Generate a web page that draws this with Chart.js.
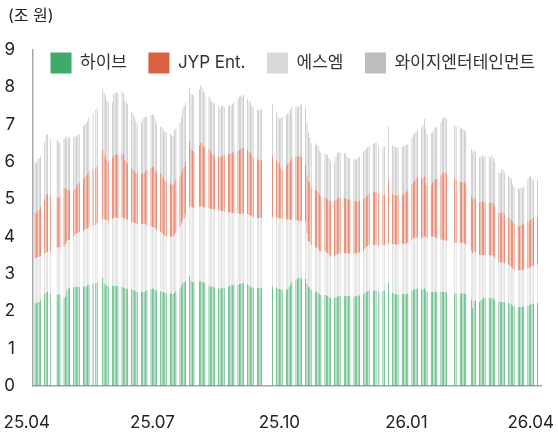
<!DOCTYPE html>
<html lang="ko">
<head>
<meta charset="utf-8">
<title>엔터 4사 시가총액</title>
<script src="https://cdn.jsdelivr.net/npm/chart.js@4.4.1/dist/chart.umd.min.js"></script>
<style>
  html, body { margin: 0; padding: 0; background: #fff; }
  #wrap { width: 558px; height: 435px; position: relative; }
</style>
</head>
<body>
<div id="wrap"><canvas id="capChart"></canvas></div>
<script>
// calendar range of the x axis (one bar per trading day)
const startDate = '2025-04-20';
const endDate   = '2026-04-22';
const holidays  = ['2025-05-01','2025-05-05','2025-05-06','2025-06-03','2025-06-06','2025-08-15',
  '2025-10-03','2025-10-06','2025-10-07','2025-10-08','2025-10-09','2025-12-25','2025-12-31',
  '2026-01-01','2026-02-16','2026-02-17','2026-02-18','2026-03-02'];

const tickDates  = ['2025-04-15', '2025-07-15', '2025-10-15', '2026-01-15', '2026-04-15'];
const tickLabels = ['25.04', '25.07', '25.10', '26.01', '26.04'];

const names = ['하이브', 'JYP Ent.', '에스엠', '와이지엔터테인먼트'];

// 조 원, one value per trading day, one line per month
const hybe = [
  2.22,2.21,2.24,2.26,2.30,2.48,2.52,2.53,
  2.48,2.46,2.45,2.44,2.36,2.40,2.55,2.62,2.62,2.64,2.66,2.66,2.65,2.66,2.66,2.67,2.66,2.70,2.72,
  2.74,2.75,2.76,2.89,2.75,2.70,2.70,2.68,2.68,2.69,2.68,2.67,2.68,2.65,2.64,2.62,2.61,2.60,2.58,
  2.57,2.55,2.53,2.52,2.52,2.51,2.52,2.54,2.58,2.60,2.61,2.60,2.58,2.56,2.54,2.53,2.52,2.50,2.48,2.47,2.48,2.47,2.50,
  2.55,2.62,2.70,2.76,2.78,2.80,2.94,2.82,2.78,2.78,2.80,2.80,2.79,2.78,2.75,2.68,2.66,2.65,2.66,2.64,
  2.62,2.61,2.62,2.63,2.62,2.66,2.68,2.70,2.70,2.71,2.72,2.73,2.74,2.75,2.76,2.72,2.70,2.66,2.64,2.63,2.63,2.62,
  2.62,2.63,2.66,2.64,2.62,2.60,2.58,2.57,2.58,2.60,2.65,2.72,2.80,2.85,2.88,2.90,2.89,2.88,
  2.87,2.75,2.66,2.64,2.58,2.52,2.53,2.50,2.46,2.44,2.44,2.43,2.41,2.38,2.36,2.36,2.38,2.40,2.41,2.41,
  2.41,2.40,2.41,2.42,2.41,2.40,2.40,2.41,2.42,2.43,2.47,2.50,2.52,2.54,2.55,2.55,2.56,2.55,2.54,2.55,2.56,
  2.77,2.50,2.47,2.46,2.45,2.46,2.46,2.47,2.46,2.47,2.48,2.55,2.58,2.60,2.60,2.61,2.58,2.60,2.62,2.55,2.52,
  2.52,2.52,2.53,2.52,2.51,2.52,2.53,2.52,2.52,2.50,2.48,2.48,2.47,2.48,2.49,2.48,2.45,
  2.32,2.08,2.28,2.30,2.25,2.30,2.34,2.35,2.36,2.36,2.35,2.36,2.34,2.30,2.26,2.25,2.26,2.25,2.24,2.22,2.20,
  2.18,2.15,2.13,2.12,2.11,2.12,2.12,2.13,2.15,2.16,2.18,2.20,2.21,2.22
];
const sm = [
  1.21,1.21,1.21,1.20,1.18,1.07,1.05,1.05,
  1.12,1.24,1.26,1.28,1.37,1.40,1.33,1.28,1.30,1.36,1.39,1.42,1.45,1.46,1.49,1.51,1.54,1.52,1.53,
  1.54,1.55,1.59,1.59,1.70,1.75,1.73,1.74,1.80,1.81,1.84,1.83,1.82,1.87,1.86,1.86,1.86,1.85,1.82,
  1.81,1.81,1.82,1.81,1.81,1.83,1.83,1.79,1.72,1.68,1.65,1.66,1.64,1.62,1.58,1.57,1.53,1.52,1.52,1.52,1.52,1.53,1.55,
  1.55,1.63,1.65,1.69,1.72,1.80,1.86,1.96,2.00,1.98,2.00,2.02,2.01,2.00,2.03,2.08,2.09,2.09,2.07,2.08,
  2.08,2.09,2.06,2.05,2.04,1.99,1.97,1.94,1.93,1.91,1.90,1.88,1.86,1.85,1.86,1.88,1.88,1.91,1.91,1.89,1.87,1.88,
  1.88,1.87,1.86,1.88,1.88,1.90,1.90,1.91,1.88,1.86,1.80,1.73,1.65,1.59,1.55,1.52,1.53,1.54,
  1.53,1.35,1.22,1.21,1.20,1.18,1.17,1.18,1.16,1.16,1.16,1.15,1.14,1.12,1.11,1.10,1.12,1.13,1.14,1.14,
  1.14,1.15,1.15,1.13,1.13,1.14,1.15,1.14,1.14,1.14,1.15,1.18,1.20,1.21,1.22,1.22,1.22,1.22,1.22,1.22,1.22,
  1.03,1.30,1.33,1.33,1.33,1.34,1.34,1.34,1.34,1.35,1.36,1.37,1.37,1.36,1.37,1.37,1.37,1.37,1.38,1.43,1.46,
  1.48,1.48,1.47,1.46,1.44,1.40,1.39,1.38,1.38,1.38,1.35,1.36,1.36,1.35,1.35,1.34,1.33,
  1.30,1.47,1.32,1.28,1.25,1.20,1.17,1.15,1.14,1.14,1.14,1.14,1.13,1.12,1.06,1.05,1.05,1.05,1.04,1.03,1.02,
  1.00,0.99,0.99,0.98,0.99,0.98,0.99,0.99,1.00,1.00,1.00,1.00,1.01,1.03
];
const jyp = [
  1.22,1.20,1.25,1.26,1.32,1.45,1.55,1.57,
  1.48,1.35,1.33,1.34,1.57,1.50,1.40,1.35,1.33,1.25,1.23,1.27,1.32,1.33,1.40,1.42,1.42,1.46,1.50,
  1.52,1.55,1.55,1.84,1.75,1.67,1.62,1.56,1.62,1.68,1.68,1.72,1.70,1.73,1.70,1.57,1.53,1.50,1.45,
  1.42,1.39,1.37,1.37,1.35,1.36,1.37,1.42,1.50,1.57,1.62,1.59,1.56,1.54,1.58,1.55,1.50,1.48,1.48,1.43,1.40,1.38,1.40,
  1.45,1.37,1.35,1.37,1.38,1.40,1.75,1.57,1.52,1.52,1.65,1.70,1.70,1.64,1.62,1.59,1.55,1.48,1.45,1.43,
  1.45,1.42,1.47,1.50,1.54,1.55,1.57,1.58,1.62,1.66,1.68,1.71,1.75,1.76,1.76,1.72,1.70,1.68,1.65,1.60,1.58,1.55,
  1.55,1.55,1.63,1.53,1.50,1.45,1.37,1.32,1.44,1.49,1.53,1.60,1.67,1.71,1.72,1.74,1.73,1.72,
  1.52,1.55,1.62,1.60,1.52,1.52,1.55,1.52,1.50,1.48,1.45,1.44,1.45,1.47,1.48,1.49,1.48,1.49,1.49,1.49,
  1.49,1.47,1.44,1.45,1.44,1.42,1.40,1.40,1.39,1.39,1.40,1.37,1.36,1.37,1.38,1.41,1.42,1.43,1.39,1.33,1.34,
  1.70,1.35,1.32,1.31,1.32,1.32,1.30,1.34,1.38,1.38,1.38,1.48,1.50,1.54,1.58,1.62,1.60,1.61,1.62,1.47,1.40,
  1.40,1.45,1.52,1.57,1.60,1.73,1.78,1.80,1.82,1.80,1.72,1.68,1.65,1.63,1.61,1.63,1.62,
  1.46,1.45,1.45,1.44,1.42,1.43,1.44,1.43,1.42,1.40,1.41,1.42,1.41,1.38,1.33,1.33,1.35,1.35,1.32,1.27,1.26,
  1.27,1.26,1.23,1.20,1.18,1.20,1.21,1.23,1.25,1.26,1.27,1.28,1.28,1.27
];
const yg = [
  1.35,1.36,1.38,1.38,1.35,1.55,1.60,1.60,
  1.54,1.55,1.51,1.44,1.32,1.35,1.40,1.41,1.40,1.40,1.40,1.35,1.30,1.30,1.40,1.40,1.40,1.42,1.45,
  1.50,1.55,1.55,1.66,1.65,1.66,1.60,1.62,1.50,1.64,1.65,1.66,1.65,1.65,1.65,1.60,1.60,1.60,1.50,
  1.50,1.45,1.38,1.32,1.37,1.45,1.48,1.47,1.40,1.40,1.40,1.40,1.37,1.28,1.25,1.27,1.30,1.30,1.32,1.33,1.30,1.30,1.40,
  1.35,1.43,1.50,1.63,1.62,1.60,1.45,1.47,1.50,1.50,1.50,1.53,1.50,1.46,1.45,1.40,1.38,1.40,1.42,1.40,
  1.35,1.33,1.35,1.34,1.28,1.30,1.30,1.28,1.30,1.32,1.40,1.43,1.43,1.39,1.42,1.36,1.34,1.35,1.30,1.33,1.32,1.33,
  1.35,1.37,1.40,1.30,1.20,1.20,1.33,1.40,1.35,1.35,1.34,1.35,1.36,1.35,1.30,1.32,1.37,1.41,
  1.53,1.40,1.30,1.20,1.20,1.23,1.25,1.22,1.18,1.17,1.17,1.18,1.18,1.13,1.07,1.03,1.17,1.23,1.22,1.21,
  1.21,1.20,1.15,1.12,1.12,1.12,1.10,1.13,1.17,1.19,1.26,1.27,1.27,1.28,1.27,1.30,1.30,1.32,1.27,1.30,1.30,
  1.45,1.30,1.30,1.30,1.28,1.28,1.30,1.27,1.27,1.25,1.26,1.25,1.27,1.28,1.27,1.25,1.35,1.42,1.53,1.45,1.37,
  1.38,1.35,1.36,1.37,1.40,1.40,1.45,1.50,1.50,1.47,1.45,1.43,1.44,1.44,1.43,1.40,1.40,
  1.27,1.25,1.25,1.26,1.20,1.22,1.23,1.22,1.23,1.25,1.22,1.26,1.22,1.20,1.07,1.07,1.14,1.15,1.12,1.10,1.12,
  1.10,1.00,0.97,1.00,1.00,1.02,0.98,1.00,1.15,1.18,1.17,1.07,1.00,1.00
];

const colors      = { hybe: '#3FAA69', jyp: '#DA6142', sm: '#D9D9D9', yg: '#BDBDBD' };
const legendOrder = ['하이브', 'JYP Ent.', '에스엠', '와이지엔터테인먼트'];

// calendar days -> categories, trading days get the next value
const DAY = 86400000;
const toUTC = s => Date.UTC(+s.slice(0, 4), +s.slice(5, 7) - 1, +s.slice(8, 10));
const days = [];
for (let t = toUTC(startDate); t <= toUTC(endDate); t += DAY) days.push(new Date(t).toISOString().slice(0, 10));

const spread = series => {
  let k = 0;
  return days.map(d => {
    const wd = new Date(toUTC(d)).getUTCDay();
    if (wd === 0 || wd === 6 || holidays.includes(d)) return null;
    return k < series.length ? series[k++] : null;
  });
};

const tickIdx = tickDates.map(d => Math.round((toUTC(d) - toUTC(startDate)) / DAY));
const tickMap = {};
tickIdx.forEach((v, i) => { tickMap[v] = tickLabels[i]; });

// legend overlaps the plot top and starts at the y axis; title sits a bit right
const nudge = {
  id: 'nudge',
  afterLayout(chart) {
    const l = chart.legend;
    if (l) { l.left += 25; l.right += 25; l.bottom += 30; l.height += 30; }
    const t = chart.titleBlock;
    if (t) { t.left += 4; t.right += 4; }
  }
};

Chart.defaults.font.family = "Inter, 'Noto Sans CJK KR', 'Noto Sans', sans-serif";
Chart.defaults.color = '#222';

const bar = (label, data, color) => ({
  label, data: spread(data), backgroundColor: color, borderWidth: 0,
  barThickness: 0.7, inflateAmount: 0
});

new Chart(document.getElementById('capChart'), {
  type: 'bar',
  data: {
    labels: days,
    datasets: [
      bar(names[0], hybe, colors.hybe),
      bar(names[2], sm,   colors.sm),
      bar(names[1], jyp,  colors.jyp),
      bar(names[3], yg,   colors.yg)
    ]
  },
  options: {
    responsive: true, maintainAspectRatio: false, animation: false, devicePixelRatio: 1,
    layout: { padding: { left: 4, right: 17, top: 0, bottom: 0 } },
    plugins: {
      title: {
        display: true, text: '(조 원)', align: 'start', color: '#222',
        font: { size: 16, weight: 'normal' }, padding: { top: 7, bottom: 4.8 }
      },
      legend: {
        position: 'top', align: 'start', maxHeight: 19,
        labels: {
          boxWidth: 21, boxHeight: 21, padding: 21.5, color: '#333', font: { size: 17 },
          sort: (a, b) => legendOrder.indexOf(a.text) - legendOrder.indexOf(b.text)
        }
      },
      tooltip: { enabled: false }
    },
    scales: {
      x: {
        stacked: true, offset: true,
        grid: { display: false, drawTicks: false },
        border: { display: true, color: '#a8a8a8', width: 1.5 },
        ticks: { autoSkip: false, maxRotation: 0, padding: 27, color: '#222', font: { size: 17 },
                 callback: v => tickMap[v] ?? '' },
        afterBuildTicks: s => { s.ticks = tickIdx.map(v => ({ value: v })); },
        afterFit: s => { s.height = 49; s.paddingLeft = 0; s.paddingRight = 0; }
      },
      y: {
        stacked: true, min: 0, max: 9,
        grid: { display: false, drawTicks: false },
        border: { display: true, color: '#a8a8a8', width: 1.5 },
        ticks: { stepSize: 1, padding: 18, color: '#222', font: { size: 17 } },
        afterFit: s => { s.width = 29; }
      }
    }
  },
  plugins: [nudge]
});
</script>
</body>
</html>
